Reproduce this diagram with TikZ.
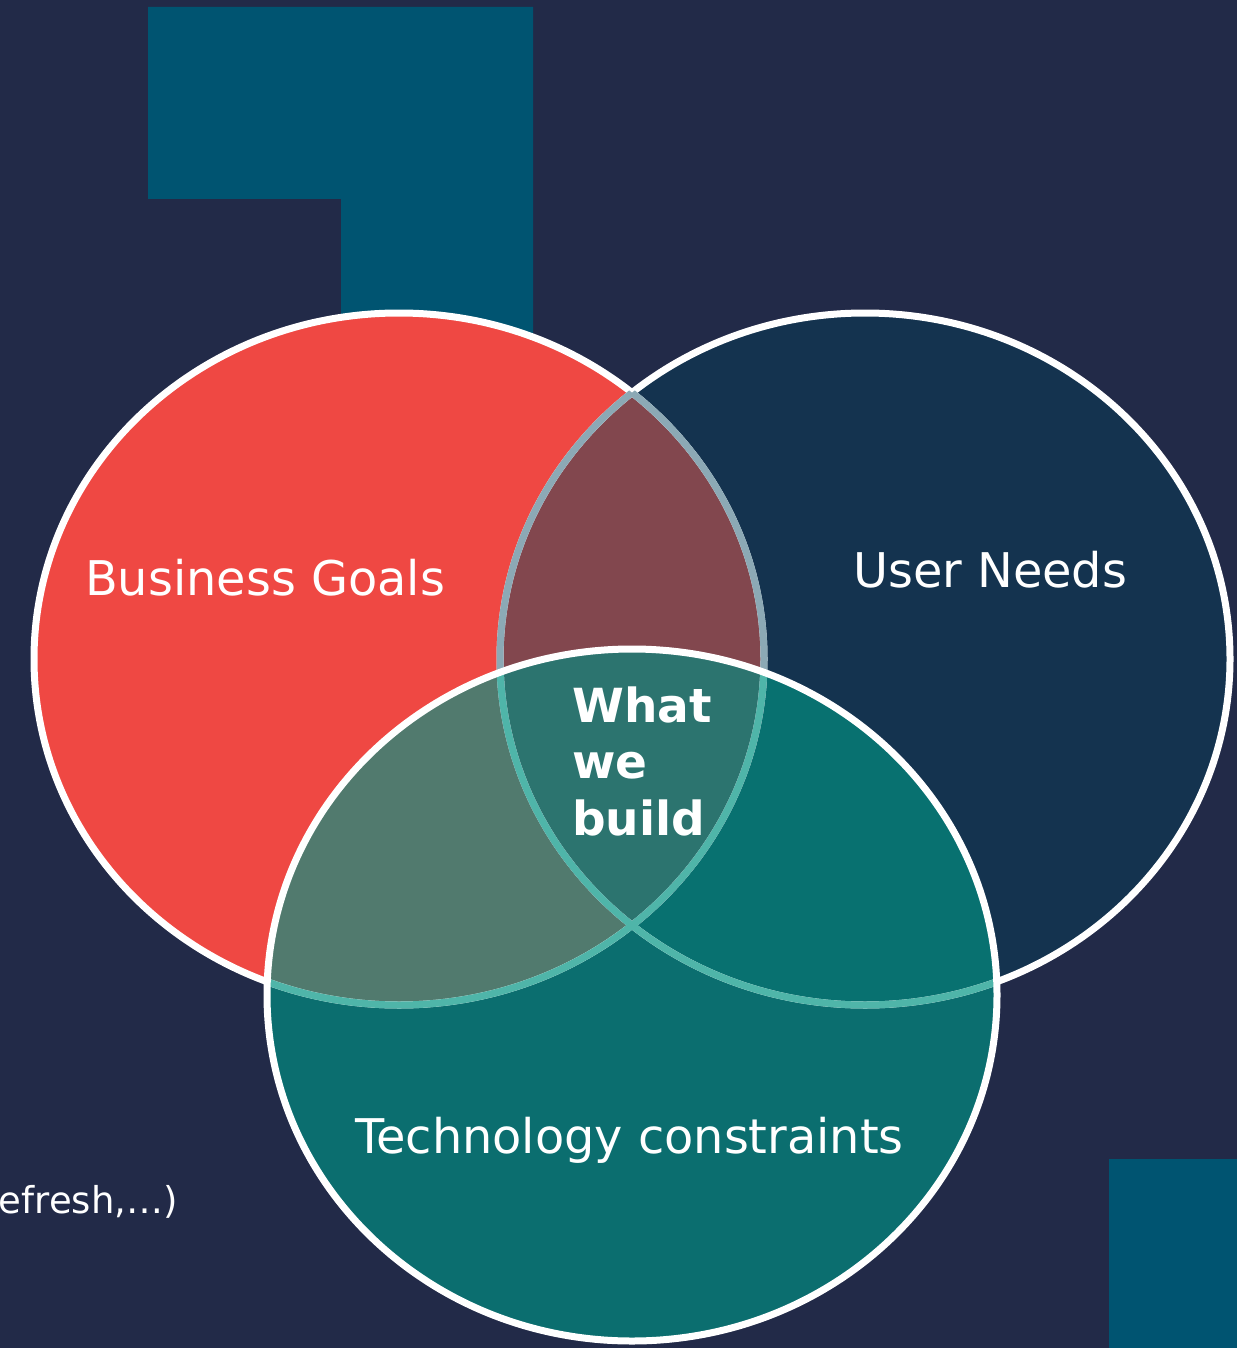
\documentclass[tikz,border=0pt]{standalone}
\usepackage{fontspec}
\setmainfont{DejaVu Sans}
\usetikzlibrary{positioning}

\definecolor{bgnavy}{HTML}{222A48}
\definecolor{blockteal}{HTML}{005471}
\definecolor{busred}{HTML}{EF4843}
\definecolor{usernavy}{HTML}{14334F}
\definecolor{techteal}{HTML}{0B6E6F}
\definecolor{bususer}{HTML}{82474E}
\definecolor{bustech}{HTML}{517A6E}
\definecolor{usertech}{HTML}{087170}
\definecolor{allthree}{HTML}{2C746F}
\definecolor{rimgrey}{HTML}{8CA9B5}
\definecolor{rimteal}{HTML}{4FB5A9}

\tikzset{
  vennsize/.style={x radius=365pt, y radius=346pt},
  rim/.style={line width=7pt},
  venntext/.style={text=white, inner sep=0pt, font=\fontsize{47.8}{56}\selectfont},
}

\begin{document}
\begin{tikzpicture}[x=1pt, y=-1pt]
  \fill [bgnavy] (0,0) rectangle (1237,1348);
  \useasboundingbox (0,0) rectangle (1237,1348);
  \fill [blockteal] (148,7) -- (533,7) -- (533,340) -- (341,340) -- (341,199) -- (148,199) -- cycle;
  \fill [blockteal] (1109,1159) rectangle (1237,1348);

  \coordinate (cBus) at (399,659);
  \coordinate (cUser) at (865,659);
  \coordinate (cTech) at (632,995);

  \fill [busred] (cBus) ellipse [vennsize];
  \fill [usernavy] (cUser) ellipse [vennsize];
  \fill [techteal] (cTech) ellipse [vennsize];
  \begin{scope}
    \clip (cBus) ellipse [vennsize];
    \fill [bususer] (cUser) ellipse [vennsize];
    \fill [bustech] (cTech) ellipse [vennsize];
    \clip (cUser) ellipse [vennsize];
    \fill [allthree] (cTech) ellipse [vennsize];
  \end{scope}
  \begin{scope}[even odd rule]
    \clip (-10,-10) rectangle (1250,1360) (cBus) ellipse [vennsize];
    \clip (cUser) ellipse [vennsize];
    \fill [usertech] (cTech) ellipse [vennsize];
  \end{scope}

  \draw [rim, white] (cBus) ellipse [vennsize];
  \draw [rim, white] (cUser) ellipse [vennsize];
  \begin{scope}
    \clip (cBus) ellipse [vennsize];
    \draw [rim, rimgrey] (cUser) ellipse [vennsize];
  \end{scope}
  \begin{scope}
    \clip (cUser) ellipse [vennsize];
    \draw [rim, rimgrey] (cBus) ellipse [vennsize];
  \end{scope}
  \begin{scope}
    \clip (cTech) ellipse [vennsize];
    \draw [rim, rimteal] (cBus) ellipse [vennsize];
    \draw [rim, rimteal] (cUser) ellipse [vennsize];
  \end{scope}
  \draw [rim, white] (cTech) ellipse [vennsize];

  \node (iBus) [venntext, anchor=base west] at (85,595) {Business Goals};
  \node (iUser) [venntext, anchor=base west] at (853,587) {User Needs};
  \node (iTech) [venntext, anchor=base west] at (355,1153) {Technology constraints};
  \node (iWhat) [venntext, anchor=base west, font=\fontsize{47}{56}\selectfont\bfseries] at (572,722) {What};
  \node (iWe) [venntext, anchor=base west, font=\fontsize{47}{56}\selectfont\bfseries] at ([yshift=-56.5pt]iWhat.base west) {we};
  \node (iBuild) [venntext, anchor=base west, font=\fontsize{47}{56}\selectfont\bfseries] at ([yshift=-56.5pt]iWe.base west) {build};
  \node (iRefresh) [venntext, anchor=base east, font=\fontsize{37}{44}\selectfont] at (178,1213) {efresh,…)};
\end{tikzpicture}
\end{document}
